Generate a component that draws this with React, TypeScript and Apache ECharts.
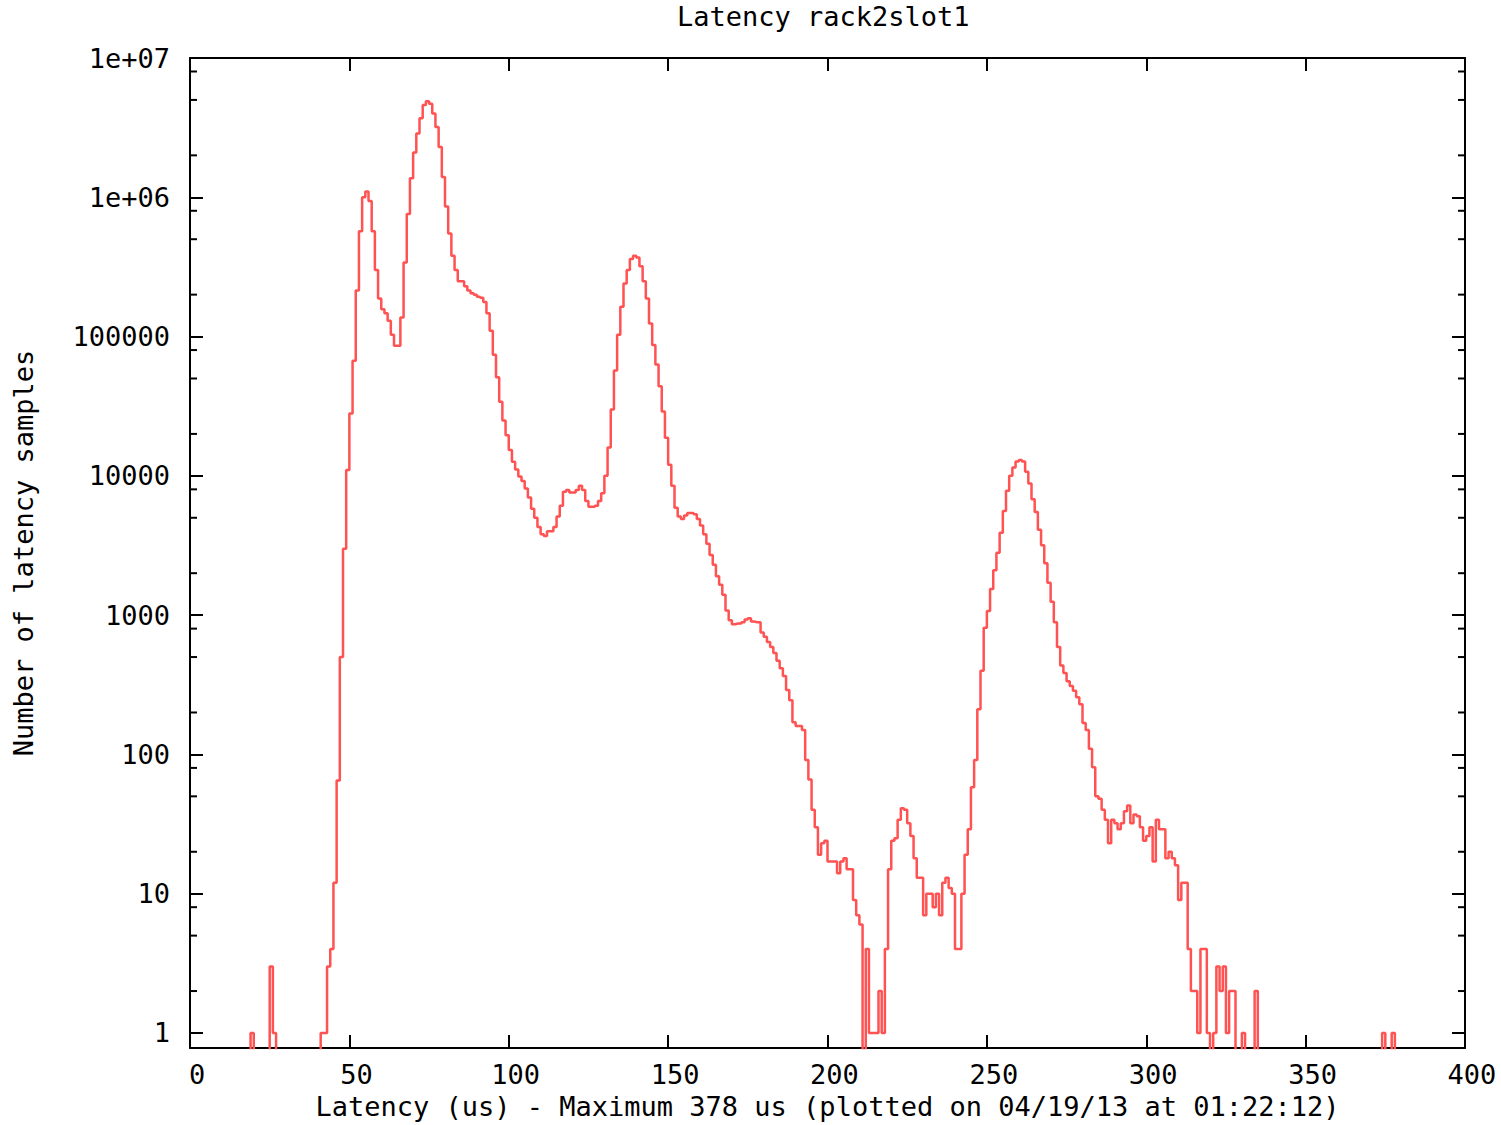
import React, { useEffect, useRef } from "react";
import * as echarts from "echarts";

// ---- texts ----
const TITLE = "Latency rack2slot1";
const X_NAME = "Latency (us) - Maximum 378 us (plotted on 04/19/13 at 01:22:12)";
const Y_NAME = "Number of latency samples";

// ---- axes ----
const X_MIN = 0;
const X_MAX = 400;
const X_INTERVAL = 50;
const Y_MIN = 0.78; // bottom of the log axis (just below 1)
const Y_MAX = 1e7;
const yMinorTickValues = [
  2, 5, 8, 20, 50, 80, 200, 500, 800, 2000, 5000, 8000, 20000, 50000, 80000,
  200000, 500000, 800000, 2000000, 5000000, 8000000,
];

// ---- data: histogram of latency samples, 1 us bins ----
// isolated early bins
const earlyBinsUs = [19, 25, 26];
const earlySamples = [1, 3, 1];
// contiguous bins starting at 41 us
const mainStartUs = 41;
const mainSamples = [
  // 41-50
  1, 1, 3, 4, 12, 65, 500, 3000, 11000, 28000,
  // 51-60
  67000, 214000, 570000, 1000000, 1100000, 940000, 570000, 300000, 188000, 157000,
  // 61-70
  147000, 130000, 103000, 86000, 86000, 137000, 340000, 760000, 1370000, 2100000,
  // 71-80
  2870000, 3700000, 4600000, 4900000, 4700000, 4000000, 3200000, 2300000, 1400000, 860000,
  // 81-90
  550000, 380000, 300000, 250000, 250000, 230000, 214000, 205000, 200000, 193000,
  // 91-100
  190000, 177000, 147000, 110000, 74000, 51000, 34000, 25000, 19600, 15300,
  // 101-110
  12600, 11100, 9900, 9200, 8100, 7000, 5800, 5000, 4300, 3800,
  // 111-120
  3700, 4000, 4000, 4300, 5100, 6100, 7700, 7900, 7600, 7600,
  // 121-130
  7900, 8500, 7900, 6600, 6000, 6000, 6100, 6600, 7500, 10000,
  // 131-140
  16000, 30000, 57000, 103000, 164000, 240000, 300000, 360000, 380000, 370000,
  // 141-150
  320000, 250000, 188000, 124000, 87000, 63000, 44000, 29000, 18800, 12000,
  // 151-160
  8500, 5900, 5100, 4900, 5200, 5400, 5400, 5300, 4900, 4400,
  // 161-170
  3800, 3250, 2700, 2300, 1900, 1650, 1400, 1080, 920, 860,
  // 171-180
  870, 870, 890, 930, 950, 900, 890, 890, 750, 700,
  // 181-190
  640, 590, 535, 470, 415, 365, 290, 245, 170, 160,
  // 191-200
  160, 150, 91, 66, 40, 30, 19, 23, 24, 17,
  // 201-210
  17, 17, 14, 17, 18, 15, 15, 9, 7, 6,
  // 211-220
  0, 4, 1, 1, 1, 2, 1, 4, 15, 24,
  // 221-230
  25, 34, 41, 40, 32, 26, 18, 13, 13, 7,
  // 231-240
  10, 10, 8, 10, 7, 12, 13, 11, 10, 4,
  // 241-250
  4, 10, 19, 29, 58, 91, 211, 398, 810, 1070,
  // 251-260
  1540, 2100, 2800, 3900, 5600, 7800, 10000, 11500, 12700, 13000,
  // 261-270
  12700, 10700, 8800, 6800, 5500, 4100, 3170, 2360, 1710, 1250,
  // 271-280
  890, 590, 435, 384, 335, 310, 286, 257, 229, 168,
  // 281-290
  150, 110, 81, 50, 48, 40, 34, 23, 34, 32,
  // 291-300
  29, 32, 39, 43, 32, 37, 36, 30, 24, 26,
  // 301-310
  30, 17, 34, 29, 29, 18, 20, 18, 16, 9,
  // 311-320
  12, 12, 4, 2, 2, 1, 4, 4, 1, 0,
  // 321-334
  1, 3, 2, 3, 1, 2, 2, 0, 0, 1, 0, 0, 0, 2,
];
// isolated late bins
const lateBinsUs = [374, 377];
const lateSamples = [1, 1];

const FONT = '"DejaVu Sans Mono", "Liberation Mono", monospace';
const FONT_SIZE = 27;
const ZERO_FLOOR = 0.3; // empty bins: below the log axis floor, clipped away

function buildSeries(): [number, number][] {
  const counts = new Map<number, number>();
  earlyBinsUs.forEach((us, i) => counts.set(us, earlySamples[i]));
  mainSamples.forEach((c, i) => counts.set(mainStartUs + i, c));
  lateBinsUs.forEach((us, i) => counts.set(us, lateSamples[i]));
  const out: [number, number][] = [];
  for (let us = X_MIN; us <= X_MAX; us++) {
    const c = counts.get(us) ?? 0;
    out.push([us, c > 0 ? c : ZERO_FLOOR]);
  }
  return out;
}

function yLabel(v: number): string {
  const e = Math.log10(v);
  const r = Math.round(e);
  if (Math.abs(e - r) > 1e-6 || r < 0) return "";
  if (r >= 6) return "1e+" + String(r).padStart(2, "0");
  return String(Math.pow(10, r));
}

export default function App() {
  const ref = useRef<HTMLDivElement>(null);

  useEffect(() => {
    if (!ref.current) return;
    const chart = echarts.init(ref.current, undefined, { renderer: "svg" });
    const axisLineStyle = { color: "#000", width: 2 };
    const labelStyle = { fontFamily: FONT, fontSize: FONT_SIZE, color: "#000" };

    const option: any = {
      animation: false,
      backgroundColor: "#fff",
      title: {
        text: TITLE,
        left: 677,
        top: 3,
        padding: 0,
        textStyle: { fontFamily: FONT, fontSize: FONT_SIZE, fontWeight: "normal", color: "#000" },
      },
      grid: {
        left: 190,
        right: 36,
        top: 58,
        bottom: 77,
        containLabel: false,
        outerBoundsMode: "none",
      },
      xAxis: [
        {
          type: "value",
          min: X_MIN,
          max: X_MAX,
          interval: X_INTERVAL,
          position: "bottom",
          name: X_NAME,
          nameLocation: "middle",
          nameGap: 45,
          nameTextStyle: labelStyle,
          axisLine: { show: true, onZero: false, lineStyle: axisLineStyle },
          axisTick: { show: true, inside: true, length: 13, lineStyle: axisLineStyle },
          axisLabel: { ...labelStyle, margin: 13, padding: [0, 0, 0, 14] },
          splitLine: { show: false },
        },
        {
          type: "value",
          min: X_MIN,
          max: X_MAX,
          interval: X_INTERVAL,
          position: "top",
          axisLine: { show: true, onZero: false, lineStyle: axisLineStyle },
          axisTick: { show: true, inside: true, length: 13, lineStyle: axisLineStyle },
          axisLabel: { show: false },
          splitLine: { show: false },
        },
      ],
      yAxis: [
        {
          type: "log",
          logBase: 10,
          min: Y_MIN,
          max: Y_MAX,
          position: "left",
          name: Y_NAME,
          nameLocation: "middle",
          nameRotate: 90,
          nameGap: 153,
          nameTextStyle: labelStyle,
          axisLine: { show: true, onZero: false, lineStyle: axisLineStyle },
          axisTick: { show: true, inside: true, length: 13, lineStyle: axisLineStyle },
          axisLabel: { ...labelStyle, margin: 20, formatter: yLabel },
          splitLine: { show: false },
        },
        {
          type: "log",
          logBase: 10,
          min: Y_MIN,
          max: Y_MAX,
          position: "right",
          axisLine: { show: true, onZero: false, lineStyle: axisLineStyle },
          axisTick: { show: true, inside: true, length: 13, lineStyle: axisLineStyle },
          axisLabel: { show: false },
          splitLine: { show: false },
        },
      ],
      series: [
        {
          type: "line",
          xAxisIndex: 0,
          yAxisIndex: 0,
          step: "end",
          data: buildSeries(),
          symbol: "none",
          showSymbol: false,
          clip: true,
          lineStyle: { color: "#ff5252", width: 2.5 },
          z: 2,
        },
        {
          type: "custom",
          xAxisIndex: 0,
          yAxisIndex: 0,
          silent: true,
          data: yMinorTickValues.map((v) => [X_MIN, v]),
          renderItem: (_params: any, api: any) => {
            const v = api.value(1);
            const l = api.coord([X_MIN, v]);
            const r = api.coord([X_MAX, v]);
            const st = { stroke: "#000", lineWidth: 2 };
            return {
              type: "group",
              children: [
                { type: "line", shape: { x1: l[0], y1: l[1], x2: l[0] + 7, y2: l[1] }, style: st },
                { type: "line", shape: { x1: r[0] - 7, y1: r[1], x2: r[0], y2: r[1] }, style: st },
              ],
            };
          },
          z: 3,
        },
      ],
    };
    chart.setOption(option);
    return () => chart.dispose();
  }, []);

  return (
    <div
      ref={ref}
      style={{ position: "absolute", left: 0, top: 0, width: 1501, height: 1125, background: "#fff" }}
    />
  );
}
